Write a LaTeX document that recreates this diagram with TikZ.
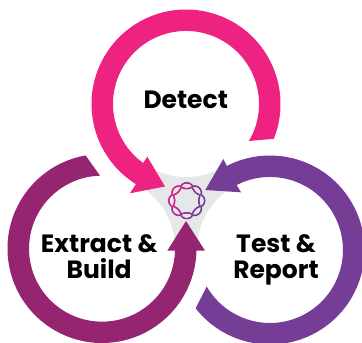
\documentclass[tikz,border=0pt]{standalone}
\usepackage{fontspec}
\setmainfont{Poppins}
\definecolor{cpink}{HTML}{EE2280}
\definecolor{cplum}{HTML}{952471}
\definecolor{cviolet}{HTML}{763D97}
\definecolor{cgrey}{HTML}{E6E7E8}
\definecolor{clink}{HTML}{D0218A}
\tikzset{
  lbl/.style={font=\fontsize{25}{25.6}\selectfont\bfseries,align=center,text=black,inner sep=0pt,anchor=base},
  hole/.style={fill=white,draw=none},
  strand/.style={line width=1.5pt}
}
\begin{document}
\begin{tikzpicture}[x=1pt,y=-1pt]
\useasboundingbox (0,0) rectangle (362,343);
\clip (0,0) rectangle (362,343);
% grey centre
\fill[cgrey] (150,172) -- (222,165) -- (235,190) -- (195,250) -- (178,250) -- (142,195) -- cycle;
\fill[hole] (186,104) circle[radius=73];
\fill[hole] (102,248.5) circle[radius=73];
\fill[hole] (270,250) circle[radius=73];
% Detect
\fill[cpink] (186,104) ++(21.6:94.5) arc[start angle=21.6,end angle=-238,radius=94.5]
  -- (130,193.3) -- (165,186.5) -- (147.3,156.7)
  -- (143.1,163) arc[start angle=-234,end angle=30.5,radius=73] -- cycle;
% Extract
\fill[cplum] (102,248.5) ++(-100:94.5) arc[start angle=-100,end angle=-358.7,radius=94.5]
  -- (205,250.7) -- (186,221) -- (167.3,250.7)
  -- (175,250.7) arc[start angle=-358.4,end angle=-91.6,radius=73] -- cycle;
% Test
\fill[cviolet] (270,250) ++(141.9:94.5) arc[start angle=141.9,end angle=-117.2,radius=94.5]
  -- (223.3,159) -- (205.3,190) -- (241,192.3)
  -- (236.7,185) arc[start angle=-117.1,end angle=150,radius=73] -- cycle;
% logo: chain of eight links
\foreach \s in {1,-1}{
 \foreach \a in {0,4,...,356}{
  \pgfmathsetmacro{\m}{max(0,min(100,50+60*cos(\a-20)))}
  \pgfmathsetmacro{\b}{\a+4}
  \pgfmathsetmacro{\ra}{15+\s*2.9*(abs(cos(4*\a))+0.0001)^0.6}
  \pgfmathsetmacro{\rb}{15+\s*2.9*(abs(cos(4*\b))+0.0001)^0.6}
  \colorlet{segc}{cviolet!\m!clink}
  \draw[segc,strand,line cap=round]
   ({186.7+\ra*cos(\a)},{200.7+\ra*sin(\a)}) -- ({186.7+\rb*cos(\b)},{200.7+\rb*sin(\b)});
 }}
\node[lbl] (detect) at (185.7,108.3) {Detect};
\node[lbl] (extract) at (99.2,278.3) {Extract \&\\Build};
\node[lbl] (test) at (276,278.3) {Test \&\\Report};
\end{tikzpicture}
\end{document}
